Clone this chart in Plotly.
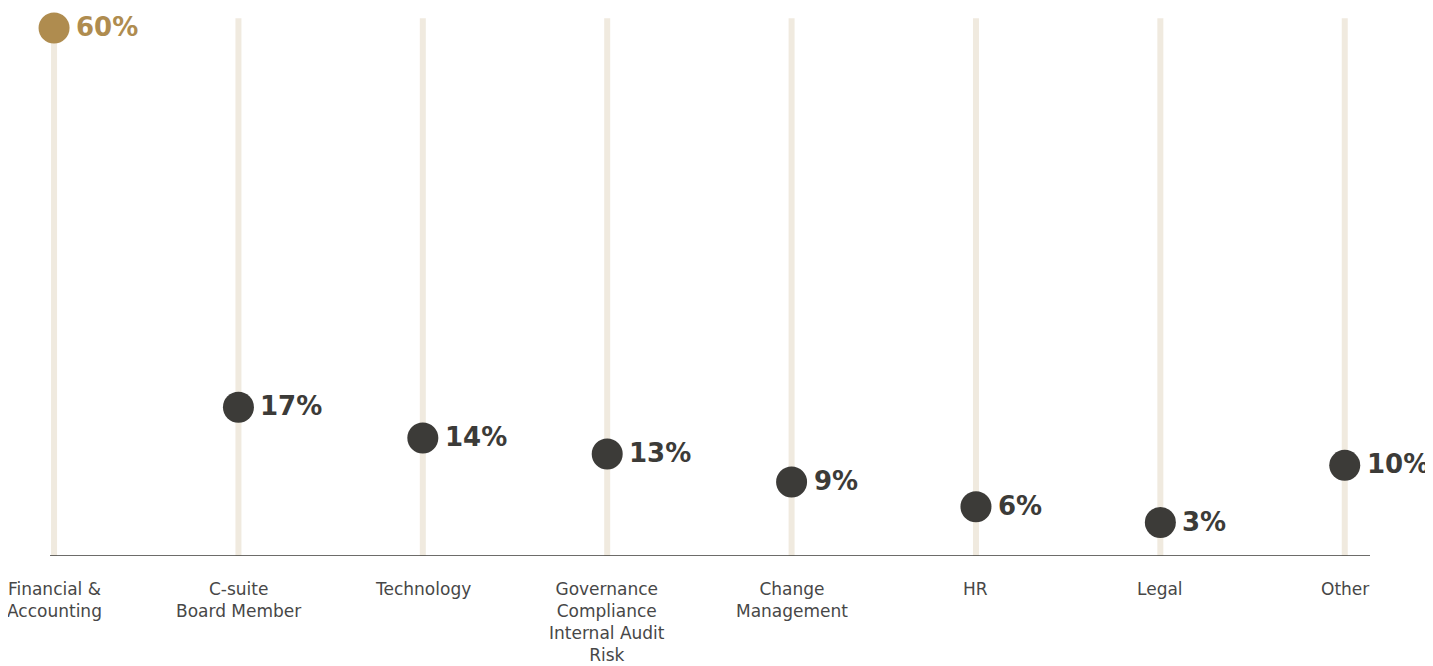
import plotly.graph_objects as go

categories = ["Financial &<br>Accounting", "C-suite<br>Board Member", "Technology",
              "Governance<br>Compliance<br>Internal Audit<br>Risk", "Change<br>Management",
              "HR", "Legal", "Other"]
# plotted positions (percent)
values = [60, 16.9, 13.4, 11.6, 8.4, 5.6, 3.8, 10.3]
value_labels = ["60%", "17%", "14%", "13%", "9%", "6%", "3%", "10%"]
stem_top = 61.1

gold = "#AF8C4F"
dark = "#3C3B38"
stem = "#F0EADF"

xs = list(range(len(categories)))

fig = go.Figure()

# stems
sx, sy = [], []
for i in xs:
    sx += [i, i, None]
    sy += [0, stem_top, None]
fig.add_trace(go.Scatter(x=sx, y=sy, mode="lines", line=dict(color=stem, width=6),
                         hoverinfo="skip", showlegend=False))

colors = [gold] + [dark] * (len(values) - 1)
fig.add_trace(go.Scatter(
    x=xs, y=values, mode="markers",
    marker=dict(size=31, color=colors, line=dict(width=0)),
    showlegend=False, cliponaxis=False,
))

# value labels, set a bit off the right of each dot
for i, (v, t) in enumerate(zip(values, value_labels)):
    fig.add_annotation(x=i, y=v, text="<b>%s</b>" % t, showarrow=False,
                       xanchor="left", xshift=21, yshift=1, borderpad=0,
                       font=dict(family="DejaVu Sans", size=26, color=colors[i]))

for i, c in enumerate(categories):
    fig.add_annotation(x=i, y=0, xref="x", yref="paper", text=c, showarrow=False,
                       yanchor="top", yshift=-21,
                       font=dict(family="DejaVu Sans", size=17, color="#474747"))

fig.update_xaxes(range=[-0.022, 7.137], showgrid=False, zeroline=False,
                 showticklabels=False, showline=False)
fig.update_yaxes(range=[0, 62.27], showgrid=False, zeroline=False,
                 showticklabels=False, showline=False)
fig.add_hline(y=0, line=dict(color=dark, width=1.5))

# page body adds an 8px margin, so the figure is sized to fit the window
fig.update_layout(
    width=1425, height=658,
    margin=dict(l=42, r=63, t=0, b=110),
    plot_bgcolor="white", paper_bgcolor="white",
)

fig.write_html("out.html")
